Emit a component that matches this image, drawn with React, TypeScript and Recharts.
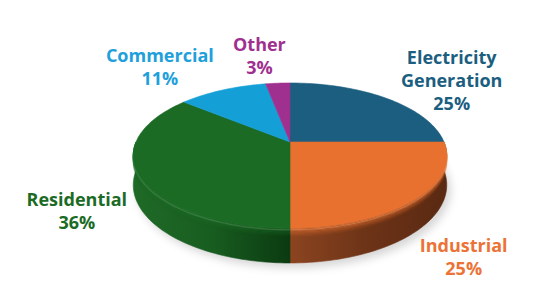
import React from 'react';
import { PieChart, Pie, Cell } from 'recharts';

const CATEGORIES = ['Electricity Generation', 'Industrial', 'Residential', 'Commercial', 'Other'];
const VALUES = [25, 25, 36, 11, 3];

const COLORS = ['#1b5e7f', '#e8712f', '#1b6b25', '#149fd7', '#a0308f'];
const LABEL_COLORS = ['#1b5e7f', '#ec7335', '#1b6b25', '#1ea0db', '#a0308f'];
const SIDE_STOPS = [
  ['#123f56', '#0f3648', '#0b2a38'],
  ['#8b4420', '#6c3317', '#5a2912'],
  ['#1f6a27', '#185d20', '#0b3a11'],
  ['#0e6f97', '#0b5c7e', '#084866'],
  ['#6e1f62', '#5c1a52', '#4a1442'],
];

const data = CATEGORIES.map((name, i) => ({ name, value: VALUES[i] }));

const PERSP = 0.186;
const H_RATIO = 0.4545;
const DEPTH_RATIO = 0.185;

function proj(cx: number, cy: number, R: number, deg: number) {
  const t = (deg * Math.PI) / 180;
  const u = Math.cos(t);
  const v = Math.sin(t);
  const k = 1 / (1 + PERSP * v);
  return { x: cx + R * u * k, y: cy - R * H_RATIO * v * k, k };
}

function sampleAngles(a: number, b: number) {
  const n = Math.max(2, Math.ceil(Math.abs(b - a) / 1.5));
  const out: number[] = [];
  for (let i = 0; i <= n; i++) out.push(a + ((b - a) * i) / n);
  return out;
}

function idxOf(props: any) {
  const nm = props.name ?? props.payload?.name;
  const i = CATEGORIES.indexOf(nm);
  return i < 0 ? 0 : i;
}

const TopShape = (props: any) => {
  const { cx, cy, outerRadius, startAngle, endAngle, fill } = props;
  const pts = sampleAngles(startAngle, endAngle).map((a) => proj(cx, cy, outerRadius, a));
  const d =
    `M${cx},${cy} ` + pts.map((p) => `L${p.x.toFixed(2)},${p.y.toFixed(2)}`).join(' ') + ' Z';
  return <path d={d} fill={fill} stroke={fill} strokeWidth={0.6} />;
};

const SideShape = (props: any) => {
  const { cx, cy, outerRadius, startAngle, endAngle } = props;
  const lo = Math.max(Math.min(startAngle, endAngle), -180);
  const hi = Math.min(Math.max(startAngle, endAngle), 0);
  if (hi <= lo) return <g />;
  const i = idxOf(props);
  const D = outerRadius * DEPTH_RATIO;
  const angs = sampleAngles(lo, hi);
  const top = angs.map((a) => proj(cx, cy, outerRadius, a));
  const bot = top.map((p) => ({ x: p.x, y: p.y + D * p.k }));
  const d =
    `M${top[0].x},${top[0].y} ` +
    top.map((p) => `L${p.x.toFixed(2)},${p.y.toFixed(2)}`).join(' ') +
    ' ' +
    bot
      .slice()
      .reverse()
      .map((p) => `L${p.x.toFixed(2)},${p.y.toFixed(2)}`)
      .join(' ') +
    ' Z';
  const arcAt = (off: number) =>
    `M${top[0].x.toFixed(2)},${(top[0].y + off * top[0].k).toFixed(2)} ` +
    top.map((p) => `L${p.x.toFixed(2)},${(p.y + off * p.k).toFixed(2)}`).join(' ');
  const gid = `sideGrad${i}`;
  const st = SIDE_STOPS[i];
  const bevel = [];
  for (let j = 0; j < 8; j++) {
    bevel.push(
      <path
        key={j}
        d={arcAt(j + 0.5)}
        fill="none"
        stroke={COLORS[i]}
        strokeOpacity={0.85 * Math.pow(1 - j / 8, 1.6)}
        strokeWidth={1.2}
      />
    );
  }
  return (
    <g>
      <defs>
        <linearGradient id={gid} x1="0" y1="0" x2="1" y2="0">
          <stop offset="0%" stopColor={st[0]} />
          <stop offset="50%" stopColor={st[1]} />
          <stop offset="100%" stopColor={st[2]} />
        </linearGradient>
      </defs>
      <path d={d} fill={`url(#${gid})`} stroke={`url(#${gid})`} strokeWidth={0.6} />
      {bevel}
      <path d={arcAt(1.5)} fill="none" stroke="#ffffff" strokeOpacity={0.12} strokeWidth={1.5} />
    </g>
  );
};

const ShadowShape = (props: any) => {
  const { cx, cy, outerRadius, startAngle, endAngle } = props;
  const i = idxOf(props);
  const D = outerRadius * DEPTH_RATIO;
  const pts = sampleAngles(startAngle, endAngle).map((a) => {
    const p = proj(cx, cy, outerRadius, a);
    return { x: p.x + 4, y: p.y + D * p.k + 5 };
  });
  const d =
    `M${cx + 4},${cy + D + 5} ` +
    pts.map((p) => `L${p.x.toFixed(2)},${p.y.toFixed(2)}`).join(' ') +
    ' Z';
  const fid = `shadowBlur${i}`;
  return (
    <g>
      <defs>
        <filter id={fid} x="-50%" y="-50%" width="200%" height="200%">
          <feGaussianBlur stdDeviation="4" />
        </filter>
      </defs>
      <path d={d} fill="#000" fillOpacity={0.16} filter={`url(#${fid})`} />
    </g>
  );
};

const renderLabel = (props: any) => {
  const { cx, cy, midAngle, percent } = props;
  const i = idxOf(props);
  const name = CATEGORIES[i];
  const t = (midAngle * Math.PI) / 180;
  const s = Math.sin(t);
  const x = cx + 240 * Math.cos(t) + (s > 0 ? -8 : 4);
  const y = cy - (s > 0 ? 86 : 163) * s;
  const lines = [...name.split(' '), `${Math.round(percent * 100)}%`];
  const lh = 23;
  const first = y - ((lines.length - 1) * lh) / 2 + 6;
  return (
    <text
      x={x}
      y={first}
      textAnchor="middle"
      fill={LABEL_COLORS[i]}
      fontFamily="'Open Sans', sans-serif"
      fontWeight={700}
      fontSize={18}
    >
      {lines.map((ln, j) => (
        <tspan key={j} x={x} y={first + j * lh}>
          {ln}
        </tspan>
      ))}
    </text>
  );
};

const common = {
  data,
  dataKey: 'value',
  nameKey: 'name',
  cx: 290,
  cy: 142,
  outerRadius: 154,
  startAngle: 90,
  endAngle: -270,
  isAnimationActive: false,
  stroke: 'none',
};

export default function App() {
  return (
    <div style={{ position: 'absolute', left: 0, top: 0, width: 556, height: 283, background: '#fff' }}>
      <PieChart width={556} height={283} margin={{ top: 0, right: 0, bottom: 0, left: 0 }}>
        <Pie {...common} shape={ShadowShape} inactiveShape={ShadowShape} activeShape={ShadowShape} labelLine={false} label={false}>
          {data.map((d, i) => (
            <Cell key={i} fill={COLORS[i]} />
          ))}
        </Pie>
        <Pie {...common} shape={SideShape} inactiveShape={SideShape} activeShape={SideShape} labelLine={false} label={false}>
          {data.map((d, i) => (
            <Cell key={i} fill={COLORS[i]} />
          ))}
        </Pie>
        <Pie {...common} shape={TopShape} inactiveShape={TopShape} activeShape={TopShape} labelLine={false} label={renderLabel}>
          {data.map((d, i) => (
            <Cell key={i} fill={COLORS[i]} />
          ))}
        </Pie>
      </PieChart>
    </div>
  );
}
